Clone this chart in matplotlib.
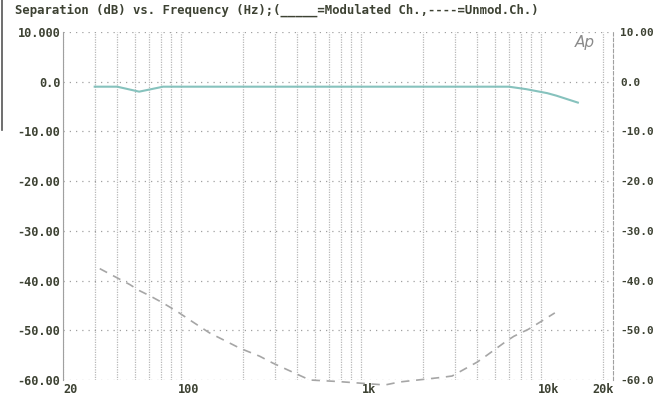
import numpy as np
import matplotlib
matplotlib.use("Agg")
import matplotlib.pyplot as plt
from matplotlib.lines import Line2D

# modulated channel (solid)
mod_f = [30, 40, 53, 72, 100, 300, 1000, 3000, 6000, 7500, 9800, 11000, 14500]
mod_db = [-1.0, -1.0, -2.0, -1.0, -1.0, -1.0, -1.0, -1.0, -1.0, -1.5, -2.3, -2.8, -4.2]

# unmodulated channel (dashed)
unmod_f = [32, 47, 53, 61, 71, 86, 100, 130, 192, 247, 293, 470, 670, 1230, 1480,
           1870, 2500, 2900, 4000, 4500, 5800, 6400, 7700, 8900, 10800]
unmod_db = [-37.6, -40.8, -42.0, -43.1, -44.4, -46.2, -47.8, -50.5, -53.6, -55.2, -56.6,
            -60.0, -60.3, -61.0, -60.4, -60.0, -59.5, -59.2, -56.4, -55.1, -52.2, -51.2,
            -49.8, -48.4, -46.5]

yticks = [10, 0, -10, -20, -30, -40, -50, -60]
left_labels = ["10.000", "0.0", "-10.00", "-20.00", "-30.00", "-40.00", "-50.00", "-60.00"]
right_labels = ["10.00", "0.0", "-10.0", "-20.0", "-30.0", "-40.0", "-50.0", "-60.0"]
xticks = [20, 100, 1000, 10000, 20000]
xlabels = ["20", "100", "1k", "10k", "20k"]

txt = "#3d4233"
mono = "DejaVu Sans Mono"

fig = plt.figure(figsize=(6.59, 4.09), dpi=100)
ax = fig.add_axes([63/659, 1-380/409, 550/659, 348/409])
ax.set_xscale("log")
ax.set_xlim(20, 22730)
ax.set_ylim(-60, 10)

# grid
grid_f = [f * 10**d for d in range(1, 4) for f in range(2, 10) if 20 <= f * 10**d <= 20000] + [20000]
for f in grid_f:
    ax.axvline(f, color="#b8b8b8", lw=0.9, ls=(0, (1, 1)), zorder=1)
for y in yticks:
    ax.axhline(y, color="#a0a0a0", lw=0.9, ls=(0, (1, 4)), zorder=1)

for s in ["top", "bottom"]:
    ax.spines[s].set_visible(False)
ax.spines["left"].set_color("#a0a0a0")
ax.spines["right"].set_color("#a0a0a0")
ax.spines["right"].set_linestyle((0, (3, 2)))

ax.plot(mod_f, mod_db, color="#86c2bd", lw=1.5, zorder=3)
ax.plot(unmod_f, unmod_db, color="#a6a6a6", lw=1.2, ls=(0, (5, 4)), zorder=3, clip_on=False)

ax.set_yticks(yticks)
ax.set_yticklabels(left_labels, fontfamily=mono, fontweight="bold", fontsize=8.6, color=txt)
ax.set_xticks(xticks)
ax.set_xticklabels(xlabels, fontfamily=mono, fontweight="bold", fontsize=8.6, color=txt)
ax.xaxis.set_minor_locator(matplotlib.ticker.NullLocator())
ax.tick_params(length=0, pad=2)
ax.get_xticklabels()[0].set_ha("left")

ax2 = ax.twinx()
ax2.set_ylim(-60, 10)
ax2.set_yticks(yticks)
ax2.set_yticklabels(right_labels, fontfamily=mono, fontweight="bold", fontsize=8.0, color=txt)
ax2.tick_params(length=0, pad=5)
for s in ax2.spines.values():
    s.set_visible(False)

fig.text(15/659, 1-10/409, "Separation (dB) vs. Frequency (Hz);(_____=Modulated Ch.,----=Unmod.Ch.)",
         fontfamily=mono, fontweight="bold", fontsize=8.8, color=txt, va="center", ha="left")
fig.text(585/659, 1-42/409, "Ap", fontstyle="italic", fontsize=11, color="#8a8a8a",
         ha="center", va="center")

# scan edge
fig.add_artist(Line2D([2/659, 2/659], [1, 1-130/409], color="#555555", lw=1.2))

fig.savefig("out.png", dpi=100)
